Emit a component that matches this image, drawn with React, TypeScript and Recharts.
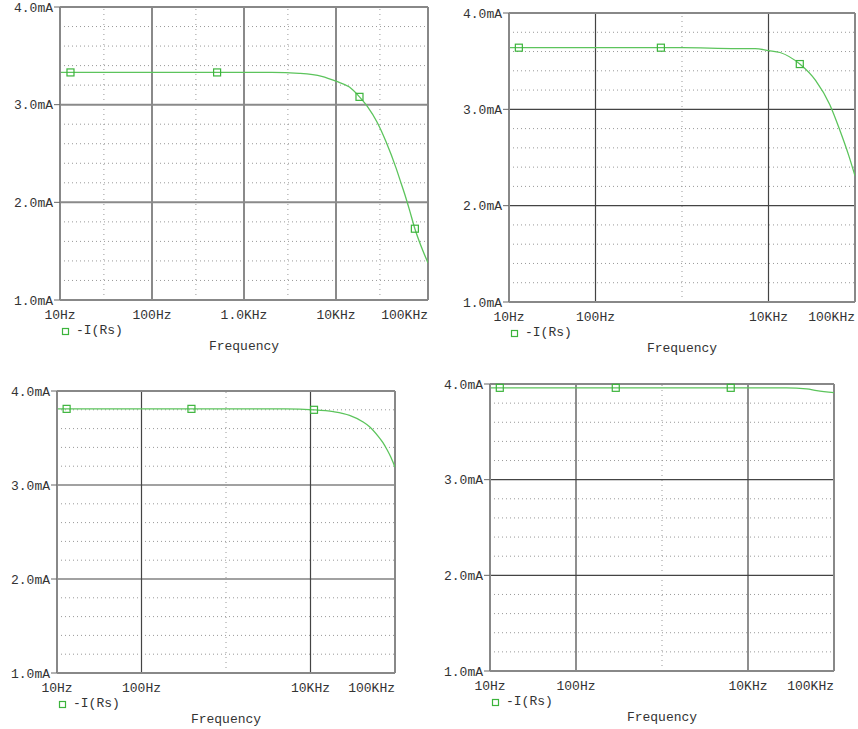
import React from "react";
import { ComposedChart, Line, XAxis, YAxis, ReferenceLine } from "recharts";

// values: -I(Rs) in mA vs frequency in Hz
const freq1 = [10, 100, 1000, 2000, 4000, 7000, 10000, 14000, 22000, 28000, 35000, 45000, 50000, 56000, 63000, 85000, 100000];
const cur1 = [3.33, 3.33, 3.33, 3.33, 3.32, 3.29, 3.24, 3.18, 2.98, 2.82, 2.62, 2.35, 2.22, 2.08, 1.92, 1.54, 1.38];
const markF1 = [13, 510, 18000, 72000];
const markI1 = [3.33, 3.33, 3.08, 1.73];

const freq2 = [10, 100, 1000, 4300, 7000, 10000, 13600, 35000, 51000, 67000, 84000, 100000];
const cur2 = [3.64, 3.64, 3.64, 3.63, 3.63, 3.61, 3.59, 3.3, 3.05, 2.78, 2.53, 2.31];
const markF2 = [13, 570, 23000];
const markI2 = [3.64, 3.64, 3.47];

const freq3 = [10, 100, 1000, 5000, 18600, 29000, 42000, 50000, 63000, 72000, 80000, 90000, 100000];
const cur3 = [3.81, 3.81, 3.81, 3.81, 3.78, 3.74, 3.67, 3.62, 3.52, 3.45, 3.38, 3.29, 3.19];
const markF3 = [13, 390, 11000];
const markI3 = [3.81, 3.81, 3.8];

const freq4 = [10, 100, 1000, 10000, 28000, 48000, 63000, 100000];
const cur4 = [3.96, 3.96, 3.96, 3.96, 3.96, 3.95, 3.93, 3.91];
const markF4 = [13, 290, 6300];
const markI4 = [3.96, 3.96, 3.96];

const xLabels: Record<number, string> = {
  10: "10Hz",
  100: "100Hz",
  1000: "1.0KHz",
  10000: "10KHz",
  100000: "100KHz",
};
const ticksFull = [10, 100, 1000, 10000, 100000];
const ticksShort = [10, 100, 10000, 100000];
const yTicks = [1, 2, 3, 4];
const yMinor = [1.2, 1.4, 1.6, 1.8, 2.2, 2.4, 2.6, 2.8, 3.2, 3.4, 3.6, 3.8];

const FONT = "'Courier New', Courier, 'Liberation Mono', 'Nimbus Mono PS', FreeMono, monospace";
const GREEN = "#5cc45c";
const MARK = "#3cb43c";

function buildRows(freq: number[], cur: number[], mf: number[], mi: number[]) {
  const rows = freq.map((f, i) => ({ f, v: cur[i], m: false }));
  mf.forEach((f, i) => rows.push({ f, v: mi[i], m: true }));
  rows.sort((a, b) => a.f - b.f);
  return rows;
}

interface PlotProps {
  x0: number;
  x1: number;
  y0: number;
  y1: number;
  freq: number[];
  cur: number[];
  mf: number[];
  mi: number[];
  xTicks: number[];
  xMajor: number[];
  xMinor: number[];
  heavy?: boolean;
}

function XTick(props: any) {
  const { x, y, payload } = props;
  const v = payload.value;
  return (
    <text
      x={x}
      y={y + 11}
      textAnchor={v === 100000 ? "end" : "middle"}
      fontFamily={FONT}
      fontSize={13}
      fill="#333"
    >
      {xLabels[v]}
    </text>
  );
}

function Plot({ x0, x1, y0, y1, freq, cur, mf, mi, xTicks, xMajor, xMinor, heavy }: PlotProps) {
  const rows = buildRows(freq, cur, mf, mi);
  const w = 60 + (x1 - x0) + 4;
  const h = 7 + (y1 - y0) + 30;
  const majorStroke = heavy ? "#8a8a8a" : "#444";
  const majorWidth = heavy ? 2 : 1.2;
  const txt = { position: "absolute" as const, fontFamily: FONT, fontSize: 13, color: "#333", whiteSpace: "pre" as const };
  return (
    <>
      <div style={{ position: "absolute", left: x0 - 60, top: y0 - 7 }}>
        <ComposedChart width={w} height={h} data={rows} margin={{ top: 7, right: 4, left: 0, bottom: 0 }}>
          <XAxis
            dataKey="f"
            type="number"
            scale="log"
            domain={[10, 100000]}
            ticks={xTicks}
            allowDataOverflow
            height={30}
            tickLine={false}
            axisLine={{ stroke: "#888", strokeWidth: 2 }}
            tick={<XTick />}
            interval={0}
          />
          <YAxis
            type="number"
            domain={[1, 4]}
            ticks={yTicks}
            width={60}
            tickSize={6}
            tickMargin={1}
            tickFormatter={(v: number) => v.toFixed(1) + "mA"}
            tick={{ fontFamily: FONT, fontSize: 13, fill: "#333" }}
            tickLine={{ stroke: "#666" }}
            axisLine={{ stroke: "#888", strokeWidth: 2 }}
            interval={0}
          />
          {yMinor.map((y) => (
            <ReferenceLine key={"ym" + y} y={y} stroke="#999" strokeDasharray="1 3" />
          ))}
          {xMinor.map((x) => (
            <ReferenceLine key={"xm" + x} x={x} stroke="#999" strokeDasharray="1 4" />
          ))}
          {[2, 3].map((y) => (
            <ReferenceLine key={"yM" + y} y={y} stroke={majorStroke} strokeWidth={majorWidth} />
          ))}
          {xMajor.map((x) => (
            <ReferenceLine key={"xM" + x} x={x} stroke={majorStroke} strokeWidth={majorWidth} />
          ))}
          <ReferenceLine y={4} stroke="#888" strokeWidth={2} />
          <ReferenceLine x={100000} stroke="#888" strokeWidth={2} />
          <Line
            dataKey="v"
            type="monotone"
            stroke={GREEN}
            strokeWidth={1.3}
            isAnimationActive={false}
            activeDot={false}
            dot={(p: any) =>
              p.payload.m ? (
                <rect
                  key={"d" + p.index}
                  x={p.cx - 3.5}
                  y={p.cy - 3.5}
                  width={7}
                  height={7}
                  fill="none"
                  stroke={MARK}
                  strokeWidth={1.2}
                />
              ) : (
                <g key={"d" + p.index} />
              )
            }
          />
        </ComposedChart>
      </div>
      <svg style={{ position: "absolute", left: x0 + 1, top: y1 + 27 }} width={9} height={9}>
        <rect x={1.5} y={1.5} width={6} height={6} fill="none" stroke={MARK} strokeWidth={1.2} />
      </svg>
      <div style={{ ...txt, left: x0 + 16, top: y1 + 23 }}>-I(Rs)</div>
      <div style={{ ...txt, left: (x0 + x1) / 2 - 60, width: 120, textAlign: "center", top: y1 + 39 }}>
        Frequency
      </div>
    </>
  );
}

export default function App() {
  return (
    <div style={{ position: "absolute", left: 0, top: 0, width: 858, height: 729, background: "#fff" }}>
      <Plot
        x0={60}
        x1={428}
        y0={7}
        y1={300}
        freq={freq1}
        cur={cur1}
        mf={markF1}
        mi={markI1}
        xTicks={ticksFull}
        xMajor={[100, 1000, 10000]}
        xMinor={[30, 300, 3000, 30000]}
        heavy
      />
      <Plot
        x0={509}
        x1={855}
        y0={13}
        y1={302}
        freq={freq2}
        cur={cur2}
        mf={markF2}
        mi={markI2}
        xTicks={ticksShort}
        xMajor={[100, 10000]}
        xMinor={[1000]}
      />
      <Plot
        x0={57}
        x1={395}
        y0={391}
        y1={673}
        freq={freq3}
        cur={cur3}
        mf={markF3}
        mi={markI3}
        xTicks={ticksShort}
        xMajor={[100, 10000]}
        xMinor={[1000]}
      />
      <Plot
        x0={490}
        x1={834}
        y0={384}
        y1={671}
        freq={freq4}
        cur={cur4}
        mf={markF4}
        mi={markI4}
        xTicks={ticksShort}
        xMajor={[100, 10000]}
        xMinor={[1000]}
      />
    </div>
  );
}
